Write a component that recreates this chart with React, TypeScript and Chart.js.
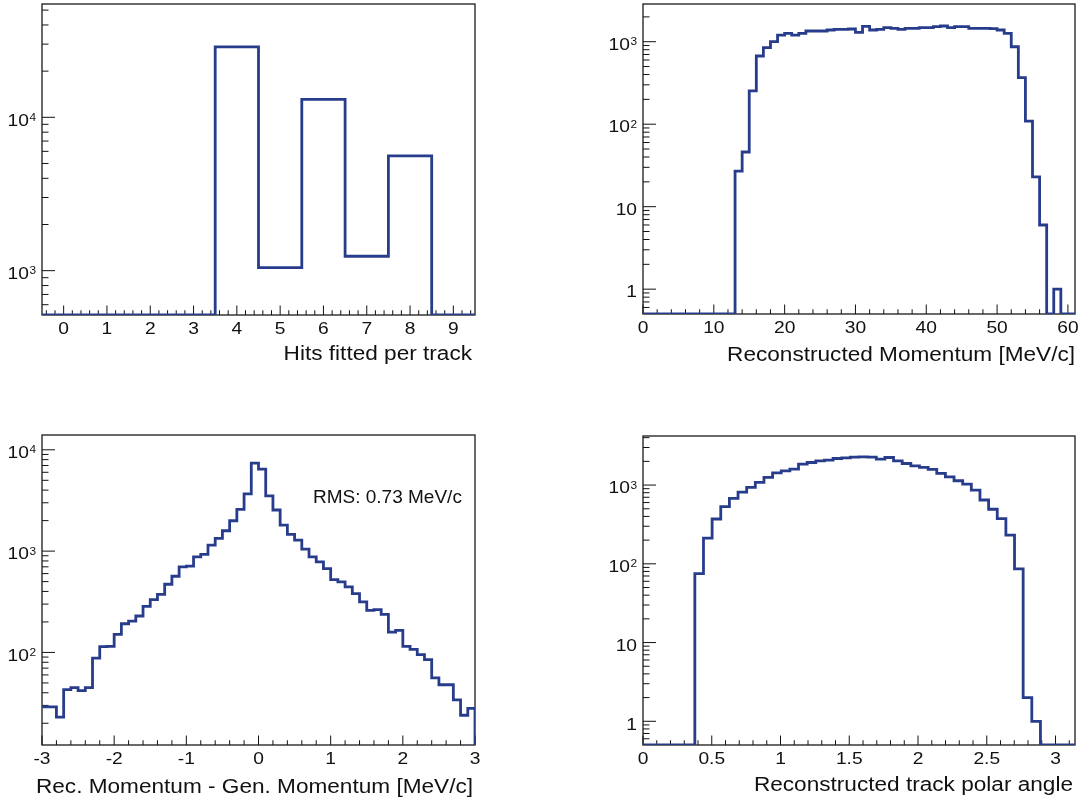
import React, { useEffect, useRef } from 'react';
import { Chart, registerables } from 'chart.js';

Chart.register(...registerables);

// ---------------- data ----------------
// Panel 1: hits fitted per track (bins centred on integers)
const hitsRange = [-0.5, 9.5];
const hitsCounts = [0, 0, 0, 0, 28800, 1046, 13100, 1242, 5596, 0];
const hitsXTicks = [0, 1, 2, 3, 4, 5, 6, 7, 8, 9];
const hitsYTicks = [1000, 10000];
const hitsYRange = [514, 54800];

// Panel 2: reconstructed momentum, 1 MeV/c bins from 0 to 61
const momRange = [0, 61];
const momCounts = [
  0, 0, 0, 0, 0, 0, 0, 0, 0, 0, 0, 0, 0,
  27, 46, 253, 671, 846, 1000, 1205, 1262, 1205, 1262,
  1349, 1349, 1349, 1386, 1413, 1413, 1425, 1300, 1535, 1386,
  1413, 1479, 1452, 1413, 1452, 1452, 1479, 1479, 1520, 1550,
  1479, 1520, 1520, 1452, 1452, 1452, 1440, 1386, 1262, 869,
  366, 109, 23, 6, 0, 1, 0, 0,
];
const momXTicks = [0, 10, 20, 30, 40, 50, 60];
const momYTicks = [1, 10, 100, 1000];
const momYRange = [0.5, 2865];

// Panel 3: momentum resolution, 0.1 MeV/c bins from -3 to 3
const resRange = [-3, 3];
const resCounts = [
  29, 29, 23, 43, 45, 42, 45, 88, 114, 115,
  151, 192, 204, 229, 285, 332, 375, 471, 565, 699,
  710, 879, 927, 1146, 1334, 1589, 1995, 2586, 3667, 7380,
  6440, 3508, 2546, 1808, 1462, 1285, 1047, 879, 784, 673,
  524, 497, 443, 381, 315, 260, 264, 238, 159, 165,
  115, 107, 95, 85, 56, 48, 48, 34, 24, 28,
];
const resXTicks = [-3, -2, -1, 0, 1, 2, 3];
const resYTicks = [100, 1000, 10000];
const resYRange = [12.2, 14000];
const resNote = 'RMS: 0.73 MeV/c';

// Panel 4: polar angle, 50 bins from 0 to pi
const polarRange = [0, Math.PI];
const polarCounts = [
  0, 0, 0, 0, 0, 0,
  75, 212, 371, 532, 678, 815, 934, 1081, 1250, 1431,
  1518, 1592, 1842, 1935, 2029, 2070, 2174, 2213, 2258, 2280,
  2258, 2140, 2239, 2029, 1879, 1754, 1675, 1579, 1406, 1274,
  1134, 1030, 865, 646, 493, 375, 231, 86, 2, 1,
  0, 0, 0, 0,
];
const polarXTicks = [0, 0.5, 1, 1.5, 2, 2.5, 3];
const polarYTicks = [1, 10, 100, 1000];
const polarYRange = [0.5, 4200];

const titles = [
  'Hits fitted per track',
  'Reconstructed Momentum [MeV/c]',
  'Rec. Momentum - Gen. Momentum [MeV/c]',
  'Reconstructed track polar angle',
];

// ---------------- styling ----------------
const FONT = "'Liberation Sans', Arial, Helvetica, sans-serif";
const LINE_COLOR = 'rgb(40,60,140)';
const TEXT_COLOR = '#111';
const SX = 1.13; // horizontal stretch of the original lettering

type PanelCfg = {
  left: number; top: number; w: number; h: number;
  padTop: number; padRight: number; yWidth: number; xHeight: number;
  counts: number[]; range: number[]; yRange: number[];
  xTicks: number[]; yTicks: number[]; xMinorStep: number;
  title: string; titleDx: number; titleDy: number;
  note?: string; noteDx?: number; noteDy?: number;
};

const panels: PanelCfg[] = [
  {
    left: 0, top: 0, w: 480, h: 380, padTop: 4, padRight: 5, yWidth: 42, xHeight: 65,
    counts: hitsCounts, range: hitsRange, yRange: hitsYRange,
    xTicks: hitsXTicks, yTicks: hitsYTicks, xMinorStep: 0.2,
    title: titles[0], titleDx: -3, titleDy: 44.5,
  },
  {
    left: 590, top: 0, w: 490, h: 380, padTop: 4, padRight: 5, yWidth: 53, xHeight: 66,
    counts: momCounts, range: momRange, yRange: momYRange,
    xTicks: momXTicks, yTicks: momYTicks, xMinorStep: 2,
    title: titles[1], titleDx: 0, titleDy: 46.5,
  },
  {
    left: 0, top: 425, w: 480, h: 376, padTop: 10, padRight: 5, yWidth: 42, xHeight: 56,
    counts: resCounts, range: resRange, yRange: resYRange,
    xTicks: resXTicks, yTicks: resYTicks, xMinorStep: 0.2,
    title: titles[2], titleDx: -2, titleDy: 47.5,
    note: resNote, noteDx: 271, noteDy: 67.5,
  },
  {
    left: 590, top: 425, w: 490, h: 376, padTop: 11, padRight: 5, yWidth: 53, xHeight: 56,
    counts: polarCounts, range: polarRange, yRange: polarYRange,
    xTicks: polarXTicks, yTicks: polarYTicks, xMinorStep: 0.1,
    title: titles[3], titleDx: -2, titleDy: 46,
  },
];

function histPoints(counts: number[], range: number[], floor: number) {
  const [lo, hi] = range;
  const w = (hi - lo) / counts.length;
  const pts = counts.map((c, i) => ({ x: lo + i * w, y: c > 0 ? c : floor }));
  pts.push({ x: hi, y: floor });
  return pts;
}

function fmtX(v: number) {
  return String(Math.round(v * 1000) / 1000);
}

function drawText(ctx: CanvasRenderingContext2D, text: string, x: number, y: number, align: CanvasTextAlign, font: string, sx: number) {
  ctx.save();
  ctx.font = font;
  ctx.textAlign = align;
  ctx.textBaseline = 'alphabetic';
  ctx.fillStyle = TEXT_COLOR;
  ctx.translate(x, y);
  ctx.scale(sx, 1);
  ctx.fillText(text, 0, 0);
  ctx.restore();
}

function framePlugin(cfg: PanelCfg) {
  return {
    id: 'rootFrame',
    beforeDatasetsDraw(chart: any) {
      const { ctx, chartArea: a } = chart;
      const x = chart.scales.x;
      const y = chart.scales.y;
      const xMaj = 9.5, xMin = 4.75, yMaj = 13, yMin = 6.5;
      ctx.save();
      ctx.strokeStyle = '#111';
      ctx.lineWidth = 1;
      ctx.beginPath();
      const isMajor = (v: number) => cfg.xTicks.some((t) => Math.abs(t - v) < 1e-6);
      for (const t of x.ticks) {
        const p = x.getPixelForValue(t.value);
        ctx.moveTo(p, a.bottom);
        ctx.lineTo(p, a.bottom - xMaj);
      }
      const st = cfg.xMinorStep;
      for (let i = Math.ceil(x.min / st - 1e-6); i * st <= x.max + 1e-6; i++) {
        const v = i * st;
        if (isMajor(v)) continue;
        const p = x.getPixelForValue(v);
        ctx.moveTo(p, a.bottom);
        ctx.lineTo(p, a.bottom - xMin);
      }
      const d0 = Math.floor(Math.log10(y.min));
      const d1 = Math.ceil(Math.log10(y.max));
      for (let d = d0; d <= d1; d++) {
        for (let m = 1; m <= 9; m++) {
          const v = m * Math.pow(10, d);
          if (v < y.min * 1.0001 || v > y.max) continue;
          const p = y.getPixelForValue(v);
          ctx.moveTo(a.left, p);
          ctx.lineTo(a.left + (m === 1 ? yMaj : yMin), p);
        }
      }
      ctx.stroke();
      ctx.lineWidth = 1.3;
      ctx.strokeStyle = '#1a1a1a';
      ctx.strokeRect(a.left, a.top, a.right - a.left, a.bottom - a.top);
      ctx.restore();
    },
    afterDraw(chart: any) {
      const { ctx, chartArea: a } = chart;
      const x = chart.scales.x;
      const y = chart.scales.y;
      const labelFont = `17px ${FONT}`;
      const expFont = `10.5px ${FONT}`;
      // x tick labels
      for (const t of x.ticks) {
        const p = x.getPixelForValue(t.value);
        drawText(ctx, fmtX(t.value), p, a.bottom + 18.5, 'center', labelFont, SX);
      }
      // y tick labels: 1, 10, 10^n
      const right = a.left - 6;
      for (const t of y.ticks) {
        const p = y.getPixelForValue(t.value);
        const e = Math.round(Math.log10(t.value));
        if (e < 2) {
          drawText(ctx, e === 0 ? '1' : '10', right, p + 8.3, 'right', labelFont, SX);
        } else {
          ctx.save();
          ctx.font = expFont;
          const wE = ctx.measureText(String(e)).width * SX;
          ctx.restore();
          drawText(ctx, String(e), right, p + 3.6, 'right', expFont, SX);
          drawText(ctx, '10', right - wE - 0.5, p + 8.3, 'right', labelFont, SX);
        }
      }
      // axis title
      drawText(ctx, cfg.title, a.right + cfg.titleDx, a.bottom + cfg.titleDy, 'right', `20px ${FONT}`, SX);
      if (cfg.note) {
        drawText(ctx, cfg.note, a.left + (cfg.noteDx || 0), a.top + (cfg.noteDy || 0), 'left', `19px ${FONT}`, 1);
      }
    },
  };
}

function HistPanel({ cfg }: { cfg: PanelCfg }) {
  const ref = useRef<HTMLCanvasElement>(null);
  useEffect(() => {
    if (!ref.current) return;
    const chart = new Chart(ref.current, {
      type: 'line',
      data: {
        datasets: [
          {
            data: histPoints(cfg.counts, cfg.range, cfg.yRange[0]),
            stepped: true,
            borderColor: LINE_COLOR,
            borderWidth: 2.8,
            pointRadius: 0,
            fill: false,
            tension: 0,
            borderJoinStyle: 'miter',
            borderCapStyle: 'butt',
          } as any,
        ],
      },
      options: {
        animation: false,
        responsive: false,
        devicePixelRatio: 1,
        events: [],
        layout: { padding: { top: cfg.padTop, right: cfg.padRight, left: 0, bottom: 0 } },
        plugins: { legend: { display: false }, tooltip: { enabled: false }, title: { display: false } },
        scales: {
          x: {
            type: 'linear',
            min: cfg.range[0],
            max: cfg.range[1],
            grid: { display: false, drawTicks: false },
            border: { display: false },
            ticks: { display: false, autoSkip: false, maxRotation: 0 },
            afterBuildTicks: (s: any) => {
              s.ticks = cfg.xTicks.map((v) => ({ value: v }));
            },
            afterFit: (s: any) => {
              s.height = cfg.xHeight;
              s.paddingLeft = 0;
              s.paddingRight = 0;
            },
          },
          y: {
            type: 'logarithmic',
            min: cfg.yRange[0],
            max: cfg.yRange[1],
            grid: { display: false, drawTicks: false },
            border: { display: false },
            ticks: { display: false, autoSkip: false },
            afterBuildTicks: (s: any) => {
              s.ticks = cfg.yTicks.map((v) => ({ value: v }));
            },
            afterFit: (s: any) => {
              s.width = cfg.yWidth;
              s.paddingTop = 0;
              s.paddingBottom = 0;
            },
          },
        },
      } as any,
      plugins: [framePlugin(cfg)],
    });
    return () => chart.destroy();
  }, [cfg]);
  return (
    <canvas
      ref={ref}
      width={cfg.w}
      height={cfg.h}
      style={{ position: 'absolute', left: cfg.left, top: cfg.top, width: cfg.w, height: cfg.h, display: 'block' }}
    />
  );
}

export default function App() {
  return (
    <div style={{ position: 'absolute', left: 0, top: 0, width: 1080, height: 801, background: '#fff', overflow: 'hidden' }}>
      {panels.map((p, i) => (
        <HistPanel key={i} cfg={p} />
      ))}
    </div>
  );
}
